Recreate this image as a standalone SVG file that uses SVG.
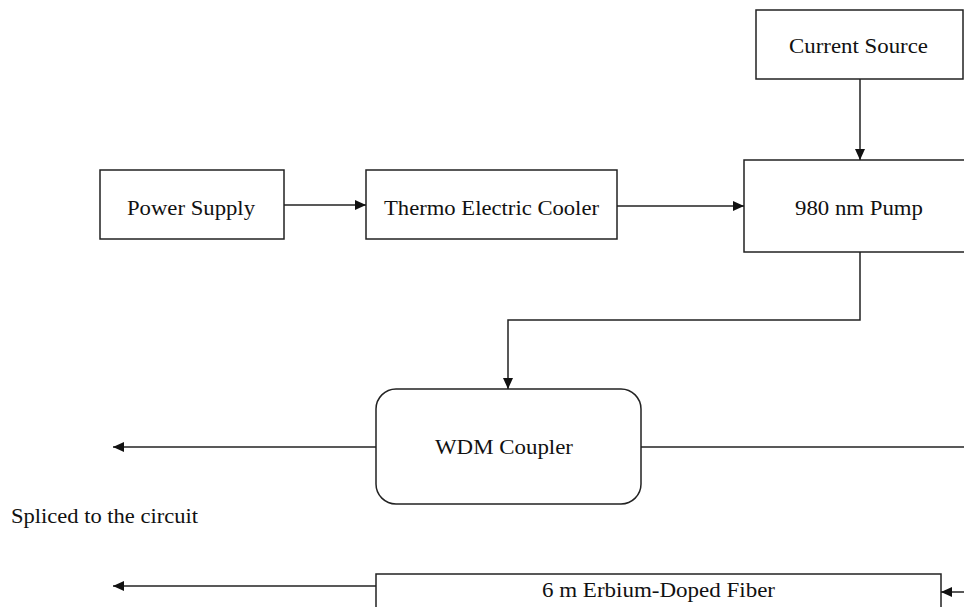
<svg xmlns="http://www.w3.org/2000/svg" width="964" height="607" viewBox="0 0 964 607">
  <defs>
    <marker id="ah" markerWidth="11" markerHeight="10" refX="11" refY="5" orient="auto" markerUnits="userSpaceOnUse">
      <path d="M0,0 L11,5 L0,10 z" fill="#111"/>
    </marker>
    <style>
      .box { fill: #fff; stroke: #222; stroke-width: 1.5; }
      .lbl { font-family: "Liberation Serif", "Times New Roman", serif; font-size: 21px; fill: #111; }
      .con { fill: none; stroke: #222; stroke-width: 1.5; }
    </style>
  </defs>
  <rect width="964" height="607" fill="#fff"/>

  <g id="current-source">
    <rect class="box" x="756" y="10" width="207" height="69"/>
    <text class="lbl" x="789" y="53" textLength="139" lengthAdjust="spacingAndGlyphs">Current Source</text>
  </g>
  <g id="power-supply">
    <rect class="box" x="100" y="170" width="184" height="69"/>
    <text class="lbl" x="127" y="215" textLength="128" lengthAdjust="spacingAndGlyphs">Power Supply</text>
  </g>
  <g id="thermo-electric-cooler">
    <rect class="box" x="366" y="170" width="251" height="69"/>
    <text class="lbl" x="384" y="215" textLength="215" lengthAdjust="spacingAndGlyphs">Thermo Electric Cooler</text>
  </g>
  <g id="pump">
    <rect class="box" x="744" y="160" width="240" height="92"/>
    <text class="lbl" x="795" y="215" textLength="128" lengthAdjust="spacingAndGlyphs">980 nm Pump</text>
  </g>
  <g id="wdm-coupler">
    <rect class="box" x="376" y="389" width="265" height="115" rx="20" ry="20"/>
    <text class="lbl" x="435" y="454" textLength="138" lengthAdjust="spacingAndGlyphs">WDM Coupler</text>
  </g>
  <g id="erbium-fiber">
    <rect class="box" x="376" y="574" width="565" height="50"/>
    <text class="lbl" x="542" y="597" textLength="233" lengthAdjust="spacingAndGlyphs">6 m Erbium-Doped Fiber</text>
  </g>
  <g id="spliced-label">
    <text class="lbl" x="11" y="523" textLength="187" lengthAdjust="spacingAndGlyphs">Spliced to the circuit</text>
  </g>

  <g id="connectors">
    <line class="con" x1="284" y1="205" x2="366" y2="205" marker-end="url(#ah)"/>
    <line class="con" x1="617" y1="206" x2="744" y2="206" marker-end="url(#ah)"/>
    <line class="con" x1="860" y1="79" x2="860" y2="160" marker-end="url(#ah)"/>
    <polyline class="con" points="860,252 860,320 508,320 508,389" marker-end="url(#ah)"/>
    <line class="con" x1="376" y1="447" x2="113" y2="447" marker-end="url(#ah)"/>
    <line class="con" x1="641" y1="447" x2="964" y2="447"/>
    <line class="con" x1="376" y1="586" x2="113" y2="586" marker-end="url(#ah)"/>
    <line class="con" x1="964" y1="592" x2="941" y2="592" marker-end="url(#ah)"/>
  </g>
</svg>
